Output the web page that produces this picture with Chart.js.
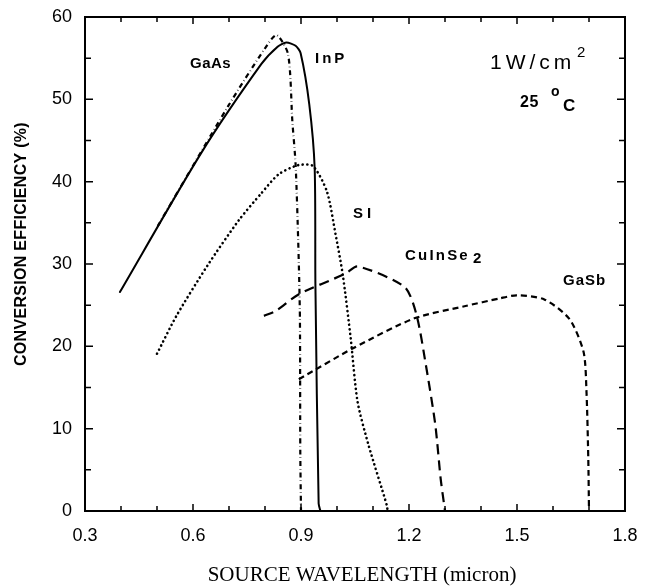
<!DOCTYPE html>
<html>
<head>
<meta charset="utf-8">
<script src="https://cdn.jsdelivr.net/npm/chart.js@4/dist/chart.umd.min.js"></script>
<style>
html,body{margin:0;padding:0;background:#fff;}
#wrap{width:647px;height:586px;}
</style>
</head>
<body>
<div id="wrap"><canvas id="c" width="647" height="586"></canvas></div>
<script>
// ---- data ----
const xTickLabels = ['0.3', '0.6', '0.9', '1.2', '1.5', '1.8'];
const yTickLabels = ['0', '10', '20', '30', '40', '50', '60'];

const gaasX = [0.502, 0.698, 0.800, 0.832, 0.864, 0.876, 0.885, 0.893, 0.897, 0.898, 0.900];
const gaasY = [34.6, 49.2, 56.2, 57.8, 55.5, 47.3, 42.1, 31.6, 23.4, 7.3, 0];

const inpX = [0.397, 0.623, 0.790, 0.835, 0.859, 0.885, 0.899, 0.923, 0.938, 0.940, 0.949, 0.954];
const inpY = [26.6, 43.5, 54.3, 56.4, 56.9, 56.5, 55.6, 49.4, 41.6, 27.6, 0.9, 0];

const siX = [0.500, 0.554, 0.640, 0.727, 0.790, 0.838, 0.892, 0.933, 0.972, 0.996, 1.016, 1.038, 1.057, 1.087, 1.139, 1.140];
const siY = [19.1, 23.7, 29.8, 35.3, 38.6, 40.9, 42.0, 41.9, 38.8, 33.6, 28.7, 21.0, 13.3, 8.1, 0.6, 0];

const cuinse2X = [0.797, 0.830, 0.893, 1.022, 1.058, 1.188, 1.221, 1.247, 1.273, 1.288, 1.300];
const cuinse2Y = [23.7, 24.3, 26.3, 28.8, 29.7, 27.2, 23.8, 17.7, 10.5, 3.9, 0];

const gasbX = [0.894, 1.046, 1.215, 1.357, 1.450, 1.499, 1.576, 1.646, 1.685, 1.693, 1.698, 1.700];
const gasbY = [16.0, 19.8, 23.4, 24.9, 25.8, 26.2, 25.7, 23.3, 19.3, 14.5, 6.4, 0];

const seriesNames = ['GaAs', 'InP', 'SI', 'CuInSe2', 'GaSb'];

function pts(xs, ys) { return xs.map((x, i) => ({ x: x, y: ys[i] })); }

const SANS = '"Liberation Sans", Arial, sans-serif';
const SERIF = '"Liberation Serif", "Times New Roman", serif';

function txt(ctx, s, x, y, font, spacing) {
  ctx.font = font;
  try { ctx.letterSpacing = (spacing || 0) + 'px'; } catch (e) {}
  ctx.fillText(s, x, y);
  try { ctx.letterSpacing = '0px'; } catch (e) {}
}

const frameAndText = {
  id: 'frameAndText',
  afterDraw(chart) {
    const ctx = chart.ctx;
    const a = chart.chartArea;
    const xs = chart.scales.x, ys = chart.scales.y;
    ctx.save();
    ctx.strokeStyle = '#000';
    ctx.lineWidth = 2;
    ctx.strokeRect(a.left, a.top, a.right - a.left, a.bottom - a.top);
    // inward tick marks
    ctx.lineWidth = 1.5;
    ctx.beginPath();
    for (let k = 3; k <= 18; k++) {
      const v = k / 10;
      const px = xs.getPixelForValue(v);
      const major = (k % 3 === 0);
      const L = major ? 7 : 5;
      ctx.moveTo(px, a.bottom); ctx.lineTo(px, a.bottom - L);
      ctx.moveTo(px, a.top); ctx.lineTo(px, a.top + L);
    }
    for (let v = 0; v <= 60; v += 5) {
      const py = ys.getPixelForValue(v);
      const L = (v % 10 === 0) ? 8 : 6;
      ctx.moveTo(a.left, py); ctx.lineTo(a.left + L, py);
      ctx.moveTo(a.right, py); ctx.lineTo(a.right - L, py);
    }
    ctx.stroke();

    // annotations
    ctx.fillStyle = '#000';
    ctx.textBaseline = 'middle';
    ctx.textAlign = 'left';
    txt(ctx, 'GaAs', 190, 64, 'bold 15px ' + SANS, 0.5);
    txt(ctx, 'InP', 315, 59, 'bold 15px ' + SANS, 3);
    txt(ctx, 'SI', 353, 214, 'bold 15px ' + SANS, 4);
    txt(ctx, 'CuInSe', 405, 256, 'bold 15px ' + SANS, 2.2);
    txt(ctx, '2', 473, 259, 'bold 15px ' + SANS, 0);
    txt(ctx, 'GaSb', 563, 281, 'bold 15px ' + SANS, 1);

    txt(ctx, '1W/cm', 490, 63, '21px ' + SANS, 4);
    txt(ctx, '2', 577, 53, '15px ' + SANS, 0);
    txt(ctx, '25', 520, 103, 'bold 16px ' + SANS, 0.5);
    txt(ctx, 'C', 563, 106, 'bold 17px ' + SANS, 0);
    txt(ctx, 'o', 551, 92, 'bold 14px ' + SANS, 0);

    // axis titles
    ctx.textAlign = 'center';
    txt(ctx, 'SOURCE WAVELENGTH (micron)', 362, 575, '21px ' + SERIF, 0);
    ctx.save();
    ctx.translate(22, 244);
    ctx.rotate(-Math.PI / 2);
    txt(ctx, 'CONVERSION EFFICIENCY (%)', 0, 0, 'bold 16px ' + SANS, 0.3);
    ctx.restore();
    ctx.restore();
  }
};

const common = { borderColor: '#000', backgroundColor: '#000', pointRadius: 0, fill: false,
                 tension: 0.25, borderCapStyle: 'round', borderJoinStyle: 'round' };

new Chart(document.getElementById('c'), {
  type: 'line',
  data: {
    datasets: [
      Object.assign({ label: seriesNames[0], data: pts(gaasX, gaasY), borderWidth: 2.2, borderDash: [5, 3, 0.5, 3] }, common, { borderCapStyle: 'butt' }),
      Object.assign({ label: seriesNames[1], data: pts(inpX, inpY), borderWidth: 2 }, common),
      Object.assign({ label: seriesNames[2], data: pts(siX, siY), borderWidth: 2.6, borderDash: [0.1, 4.5] }, common),
      Object.assign({ label: seriesNames[3], data: pts(cuinse2X, cuinse2Y), borderWidth: 2.2, borderDash: [10, 6] }, common, { borderCapStyle: 'butt' }),
      Object.assign({ label: seriesNames[4], data: pts(gasbX, gasbY), borderWidth: 2.2, borderDash: [6, 4] }, common, { borderCapStyle: 'butt' })
    ]
  },
  options: {
    responsive: false,
    animation: false,
    devicePixelRatio: 1,
    layout: { padding: { top: 17, right: 22, left: 0, bottom: 0 } },
    plugins: { legend: { display: false }, tooltip: { enabled: false } },
    scales: {
      x: {
        type: 'linear', min: 0.3, max: 1.8,
        grid: { display: false, drawTicks: false },
        border: { display: false },
        ticks: {
          stepSize: 0.3, padding: 14, color: '#000', maxRotation: 0,
          font: { family: SANS, size: 18 },
          callback: (v) => xTickLabels[Math.round((v - 0.3) / 0.3)]
        },
        afterFit: (s) => { s.height = 75; s.paddingLeft = 0; s.paddingRight = 0; }
      },
      y: {
        type: 'linear', min: 0, max: 60,
        grid: { display: false, drawTicks: false },
        border: { display: false },
        ticks: {
          stepSize: 10, padding: 13, color: '#000',
          font: { family: SANS, size: 18 },
          callback: (v) => yTickLabels[Math.round(v / 10)]
        },
        afterFit: (s) => { s.width = 85; s.paddingTop = 0; s.paddingBottom = 0; }
      }
    }
  },
  plugins: [frameAndText]
});
</script>
</body>
</html>
